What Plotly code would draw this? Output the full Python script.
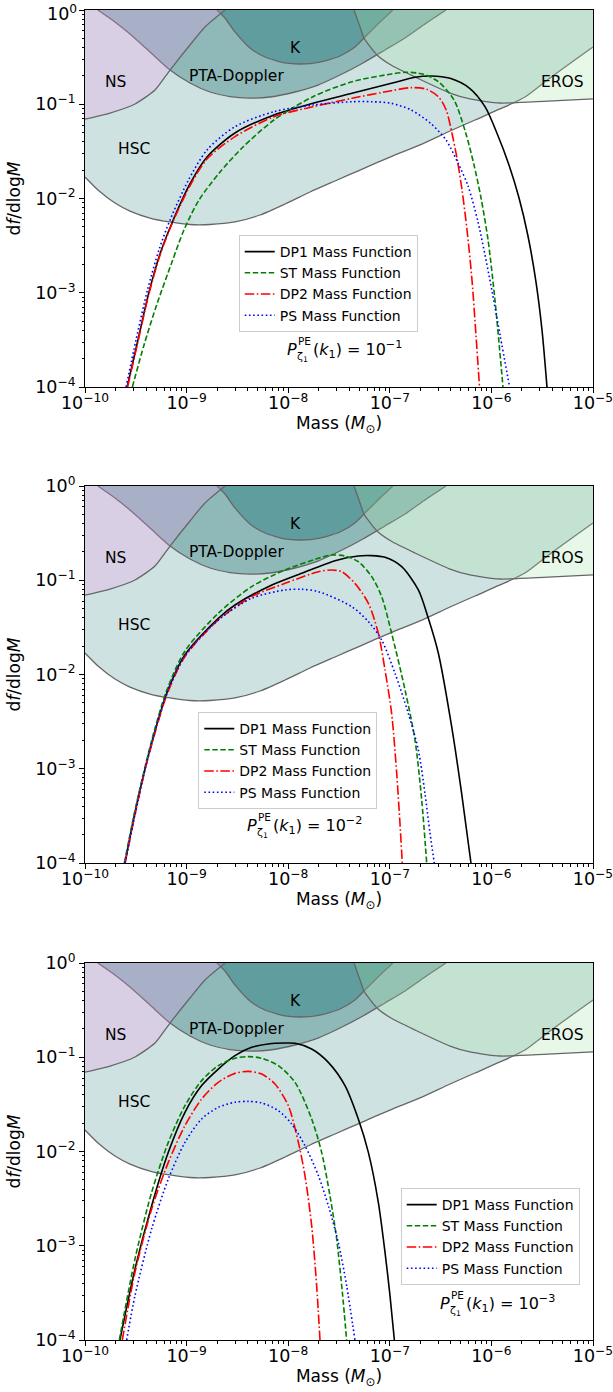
import plotly.graph_objects as go

# ---------------- constraint boundaries (log10 M, log10 f) ----------------
HSC_logM = [-10.0, -9.872, -9.705, -9.557, -9.360, -9.163, -8.967, -8.770, -8.524, -8.278, -8.031,
            -7.785, -7.539, -7.293, -6.998, -6.703, -6.407, -6.161, -5.915, -5.669, -5.423, -5.207, -5.0]
HSC_logf = [-1.772, -1.910, -2.048, -2.133, -2.207, -2.249, -2.276, -2.276, -2.249, -2.175, -2.058,
            -1.931, -1.814, -1.698, -1.560, -1.432, -1.284, -1.167, -1.050, -0.923, -0.721, -0.552, -0.393]

NS_logM = [-10.0, -9.754, -9.508, -9.311, -9.163, -8.967, -8.819, -8.622]
NS_logf = [-1.157, -1.093, -0.997, -0.849, -0.637, -0.371, -0.180, 0.0]

PTA_logM = [-9.874, -9.705, -9.557, -9.360, -9.163, -8.967, -8.770, -8.573, -8.376, -8.179, -7.933,
            -7.707, -7.490, -7.264, -7.047, -6.850, -6.654, -6.447]
PTA_logf = [0.0, -0.127, -0.255, -0.446, -0.637, -0.775, -0.870, -0.918, -0.934, -0.923, -0.870,
            -0.796, -0.690, -0.562, -0.424, -0.297, -0.149, 0.0]

K_logM = [-8.701, -8.622, -8.524, -8.376, -8.228, -8.031, -7.884, -7.687, -7.490, -7.343, -7.244, -7.096, -6.969]
K_logf = [0.0, -0.085, -0.233, -0.403, -0.499, -0.562, -0.573, -0.552, -0.488, -0.393, -0.286, -0.127, 0.0]

EROS_logM = [-7.352, -7.293, -7.254, -7.126, -6.988, -6.752, -6.407, -6.211, -5.915, -5.443, -5.0]
EROS_logf = [0.0, -0.180, -0.297, -0.477, -0.584, -0.711, -0.881, -0.944, -0.987, -0.966, -0.944]

# region labels (log10 M, log10 f)
label_text = ["NS", "PTA-Doppler", "K", "EROS", "HSC"]
label_logM = [-9.700, -8.506, -7.928, -5.301, -9.519]
label_logf = [-0.761, -0.700, -0.406, -0.761, -1.475]

# ---------------- panel 1 : P = 1e-1 ----------------
p1_dp1_logM = [-9.585, -9.488, -9.373, -9.262, -9.144, -8.967, -8.799, -8.524, -8.140, -7.756, -7.372,
               -6.984, -6.752, -6.599, -6.407, -6.214, -6.063, -5.945, -5.827, -5.728, -5.640, -5.561, -5.502, -5.453]
p1_dp1_logf = [-4.0, -3.544, -3.006, -2.589, -2.260, -1.846, -1.560, -1.305, -1.114, -0.990, -0.884,
               -0.778, -0.714, -0.700, -0.725, -0.831, -1.026, -1.308, -1.645, -1.995, -2.398, -2.886, -3.395, -4.0]
p1_st_logM = [-9.534, -9.419, -9.295, -9.144, -9.026, -8.878, -8.671, -8.445, -8.140, -7.756, -7.372,
              -6.984, -6.831, -6.676, -6.522, -6.368, -6.252, -6.171, -6.102, -6.033, -5.965, -5.886]
p1_st_logf = [-4.0, -3.554, -3.130, -2.674, -2.334, -2.016, -1.719, -1.454, -1.167, -0.920, -0.761,
              -0.679, -0.661, -0.679, -0.761, -0.955, -1.308, -1.645, -1.995, -2.440, -3.077, -4.0]
p1_dp2_logM = [-9.581, -9.484, -9.370, -9.258, -9.140, -8.963, -8.795, -8.524, -8.140, -7.756, -7.372,
               -6.984, -6.791, -6.638, -6.522, -6.445, -6.388, -6.339, -6.289, -6.240, -6.191, -6.152, -6.117]
p1_dp2_logf = [-4.0, -3.544, -3.006, -2.589, -2.260, -1.857, -1.576, -1.344, -1.132, -1.026, -0.937,
               -0.856, -0.824, -0.841, -0.920, -1.061, -1.308, -1.570, -1.910, -2.334, -2.865, -3.448, -4.0]
p1_ps_logM = [-9.596, -9.498, -9.385, -9.272, -9.163, -8.986, -8.799, -8.524, -8.140, -7.756, -7.372,
              -7.177, -6.984, -6.791, -6.599, -6.447, -6.329, -6.230, -6.132, -6.024, -5.915, -5.821]
p1_ps_logf = [-4.0, -3.501, -2.971, -2.546, -2.228, -1.814, -1.485, -1.238, -1.079, -1.008, -0.973,
              -0.973, -0.990, -1.061, -1.202, -1.379, -1.623, -1.867, -2.249, -2.812, -3.448, -4.0]

# ---------------- panel 2 : P = 1e-2 ----------------
p2_dp1_logM = [-9.606, -9.514, -9.409, -9.311, -9.196, -9.016, -8.688, -8.524, -8.196, -7.867, -7.539,
               -7.310, -7.178, -7.047, -6.883, -6.719, -6.621, -6.522, -6.391, -6.293, -6.201]
p2_dp1_logf = [-4.0, -3.49, -3.00, -2.60, -2.20, -1.79, -1.404, -1.263, -1.068, -0.927, -0.792,
               -0.743, -0.739, -0.757, -0.856, -1.103, -1.404, -1.775, -2.554, -3.261, -4.0]
p2_st_logM = [-9.613, -9.514, -9.409, -9.311, -9.196, -9.016, -8.688, -8.360, -8.031, -7.703, -7.572,
              -7.441, -7.310, -7.178, -7.080, -6.982, -6.850, -6.752, -6.686, -6.637]
p2_st_logf = [-4.0, -3.47, -2.98, -2.57, -2.17, -1.75, -1.351, -1.068, -0.891, -0.767, -0.732,
              -0.743, -0.803, -0.962, -1.174, -1.563, -2.164, -2.695, -3.331, -4.0]
p2_dp2_logM = [-9.606, -9.508, -9.409, -9.311, -9.196, -9.016, -8.688, -8.360, -8.031, -7.703, -7.572,
               -7.474, -7.343, -7.211, -7.113, -7.047, -6.982, -6.932, -6.900, -6.877]
p2_dp2_logf = [-4.0, -3.49, -3.01, -2.62, -2.22, -1.81, -1.422, -1.174, -1.033, -0.909, -0.891,
               -0.909, -1.033, -1.245, -1.563, -1.952, -2.412, -3.049, -3.579, -4.0]
p2_ps_logM = [-9.606, -9.508, -9.409, -9.311, -9.196, -9.016, -8.688, -8.360, -8.031, -7.867, -7.703,
              -7.375, -7.211, -7.080, -6.949, -6.818, -6.719, -6.654, -6.604, -6.562]
p2_ps_logf = [-4.0, -3.49, -3.00, -2.60, -2.20, -1.80, -1.422, -1.192, -1.103, -1.096, -1.121,
              -1.280, -1.439, -1.634, -1.987, -2.412, -2.801, -3.261, -3.685, -4.0]

# ---------------- panel 3 : P = 1e-3 ----------------
p3_dp1_logM = [-9.656, -9.508, -9.344, -9.180, -9.016, -8.852, -8.688, -8.524, -8.360, -8.196, -8.031,
               -7.933, -7.769, -7.605, -7.441, -7.310, -7.211, -7.113, -7.047, -6.998, -6.955]
p3_dp1_logf = [-4.0, -3.247, -2.575, -2.009, -1.584, -1.301, -1.125, -0.983, -0.895, -0.859, -0.849,
               -0.852, -0.912, -1.054, -1.301, -1.655, -2.009, -2.539, -3.070, -3.530, -4.0]
p3_st_logM = [-9.662, -9.508, -9.344, -9.180, -9.016, -8.852, -8.688, -8.524, -8.392, -8.261, -8.097,
              -7.933, -7.769, -7.671, -7.589, -7.523, -7.467, -7.425]
p3_st_logf = [-4.0, -3.140, -2.433, -1.903, -1.514, -1.248, -1.089, -1.011, -0.993, -1.011, -1.089,
              -1.266, -1.655, -2.009, -2.469, -2.928, -3.494, -4.0]
p3_dp2_logM = [-9.633, -9.508, -9.344, -9.180, -9.016, -8.852, -8.688, -8.524, -8.392, -8.261, -8.130,
               -7.999, -7.900, -7.835, -7.769, -7.720, -7.687]
p3_dp2_logf = [-4.0, -3.282, -2.610, -2.115, -1.726, -1.443, -1.266, -1.171, -1.150, -1.178, -1.284,
               -1.514, -1.903, -2.256, -2.787, -3.423, -4.0]
p3_ps_logM = [-9.590, -9.508, -9.344, -9.180, -9.016, -8.852, -8.688, -8.524, -8.392, -8.261, -8.097,
              -7.966, -7.835, -7.703, -7.605, -7.507, -7.425, -7.343]
p3_ps_logf = [-4.0, -3.530, -2.822, -2.292, -1.903, -1.655, -1.531, -1.478, -1.468, -1.485, -1.567,
              -1.708, -1.938, -2.256, -2.575, -2.964, -3.423, -4.0]

panel_power = ["\u22121", "\u22122", "\u22123"]
series_names = ["DP1 Mass Function", "ST Mass Function", "DP2 Mass Function", "PS Mass Function"]
x_tick_exp = [-10, -9, -8, -7, -6, -5]
y_tick_exp = [-4, -3, -2, -1, 0]

# ---------------- styling ----------------
FONT = "DejaVu Sans"
TICKSIZE = 17.5
series_styles = [
    dict(color="black", width=1.6, dash="solid"),
    dict(color="#008000", width=1.6, dash="5.5px,2.5px"),
    dict(color="#ff0000", width=1.6, dash="9.5px,2.5px,1.6px,2.5px"),
    dict(color="#0000ff", width=1.6, dash="1.6px,2.6px"),
]
GREY = "#666666"
region_fill = {
    "HSC": "rgba(15,110,110,0.2)",
    "PTA": "rgba(47,126,126,0.4)",
    "K": "rgba(23,116,121,0.4)",
    "NS": "rgba(246,148,243,0.23)",
    "EROS": "rgba(163,227,163,0.25)",
}

def p10(v):
    return [10 ** a for a in v]

def ylabel(e):
    return ("10<sup>\u2212%d</sup>" % (-e)) if e < 0 else "10<sup>0</sup>"

panels = [
    [(p1_dp1_logM, p1_dp1_logf), (p1_st_logM, p1_st_logf), (p1_dp2_logM, p1_dp2_logf), (p1_ps_logM, p1_ps_logf)],
    [(p2_dp1_logM, p2_dp1_logf), (p2_st_logM, p2_st_logf), (p2_dp2_logM, p2_dp2_logf), (p2_ps_logM, p2_ps_logf)],
    [(p3_dp1_logM, p3_dp1_logf), (p3_st_logM, p3_st_logf), (p3_dp2_logM, p3_dp2_logf), (p3_ps_logM, p3_ps_logf)],
]

W, H = 613, 1392
ML, MR, MT, MB = 85, 20, 10, 52
PH = H - MT - MB
panel_px = [(10, 387), (486, 863), (963, 1340)]
ydomains = [[(H - MB - b) / PH, (H - MB - t) / PH] for (t, b) in panel_px]
legend_pos = [(0.3026, (H - MB - 235) / PH), (0.223, (H - MB - 712) / PH), (0.6215, (H - MB - 1188) / PH)]
# centre of the P annotation (log10 M, log10 f)
annot_pos = [(-7.47, -3.60), (-7.86, -3.60), (-5.96, -3.61)]

fig = go.Figure()
layout = dict(
    width=W, height=H, margin=dict(l=ML, r=MR, t=MT, b=MB, autoexpand=False),
    paper_bgcolor="white", plot_bgcolor="white",
    font=dict(family=FONT, size=15, color="black"),
    showlegend=True,
)
annotations = []

minor_vals = [m * 10.0 ** e for e in range(-10, 0) for m in range(2, 10)]

for i in range(3):
    sfx = "" if i == 0 else str(i + 1)
    xa, ya = "x" + sfx, "y" + sfx
    leg = "legend" + sfx

    def region(name, xs, ys, closex, closey):
        fig.add_trace(go.Scatter(x=p10(xs + closex), y=p10(ys + closey), xaxis=xa, yaxis=ya,
                                 mode="lines", fill="toself", fillcolor=region_fill[name],
                                 line=dict(width=0), hoverinfo="skip", showlegend=False))
        fig.add_trace(go.Scatter(x=p10(xs), y=p10(ys), xaxis=xa, yaxis=ya, mode="lines",
                                 line=dict(color=GREY, width=1.3, shape="spline", smoothing=0.6),
                                 hoverinfo="skip", showlegend=False))

    region("HSC", HSC_logM, HSC_logf, [-5.0, -10.0], [0.0, 0.0])
    region("PTA", PTA_logM, PTA_logf, [], [])
    region("K", K_logM, K_logf, [], [])
    region("NS", NS_logM, NS_logf, [-10.0], [0.0])
    region("EROS", EROS_logM, EROS_logf, [-5.0], [0.0])

    for (xs, ys), nm, st in zip(panels[i], series_names, series_styles):
        fig.add_trace(go.Scatter(x=p10(xs), y=p10(ys), xaxis=xa, yaxis=ya, mode="lines",
                                 line=dict(color=st["color"], width=st["width"], dash=st["dash"],
                                           shape="spline", smoothing=0.8),
                                 name=nm, legend=leg, showlegend=True))

    axis_common = dict(type="log", showgrid=False, zeroline=False, showline=True, mirror=True,
                       linecolor="black", linewidth=1, ticks="outside", ticklen=5, tickwidth=1,
                       tickcolor="black", tickfont=dict(size=TICKSIZE, family=FONT), automargin=False,
                       ticklabeloverflow="allow",
                       minor=dict(ticks="outside", ticklen=2.5, tickwidth=0.8, tickcolor="black",
                                  tickvals=minor_vals, showgrid=False))
    layout["xaxis" + sfx] = dict(axis_common, range=[-10, -5], domain=[0, 1], anchor=ya,
                                 tickmode="array", tickvals=[10.0 ** e for e in x_tick_exp],
                                 ticktext=["10<sup>\u2212%d</sup>" % (-e) for e in x_tick_exp],
                                 ticklabelstandoff=-5,
                                 title=dict(text="Mass (<i>M</i><sub>\u2299</sub>)", font=dict(size=17),
                                            standoff=4))
    # the top label of the first panel sits at the page edge: draw it as an annotation nudged down
    ytext = [("" if (i == 0 and e == 0) else ylabel(e)) for e in y_tick_exp]
    layout["yaxis" + sfx] = dict(axis_common, range=[-4, 0], domain=ydomains[i], anchor=xa,
                                 tickmode="array", tickvals=[10.0 ** e for e in y_tick_exp],
                                 ticktext=ytext,
                                 title=dict(text="d<i>f</i>/dlog<i>M</i>", font=dict(size=17), standoff=10))
    if i == 0:
        annotations.append(dict(x=0, y=0, xref="paper", yref=ya, text=ylabel(0), showarrow=False,
                                xanchor="right", yanchor="middle", xshift=-6, yshift=-3,
                                font=dict(size=TICKSIZE, family=FONT)))
    lx, ly = legend_pos[i]
    layout[leg] = dict(x=lx, y=ly, xanchor="left", yanchor="top", xref="paper", yref="paper",
                       bgcolor="rgba(255,255,255,0.8)", bordercolor="#cccccc", borderwidth=1,
                       font=dict(size=14, family=FONT), tracegroupgap=0, itemwidth=30)

    for t, lmx, lmy in zip(label_text, label_logM, label_logf):
        annotations.append(dict(x=lmx, y=lmy, xref=xa, yref=ya, text=t, showarrow=False,
                                font=dict(size=15.5, family=FONT), xanchor="center", yanchor="middle"))
    # P^{PE}_{zeta_1}(k_1) = 10^{-n} : stacked super/subscript built from pieces
    ax_, ay_ = annot_pos[i]
    common = dict(x=ax_, y=ay_, xref=xa, yref=ya, showarrow=False, xanchor="left", yanchor="middle")
    annotations.append(dict(common, text="<i>P</i>", font=dict(size=16, family=FONT), xshift=-57))
    annotations.append(dict(common, text="PE", font=dict(size=10.5, family=FONT), xshift=-46, yshift=8))
    annotations.append(dict(common, text="\u03b6<sub>1</sub>", font=dict(size=11, family=FONT),
                            xshift=-47, yshift=-8))
    annotations.append(dict(common, text="(<i>k</i><sub>1</sub>) = 10<sup>%s</sup>" % panel_power[i],
                            font=dict(size=16, family=FONT), xshift=-31))

layout["annotations"] = annotations
fig.update_layout(**layout)
fig.write_html("out.html")
